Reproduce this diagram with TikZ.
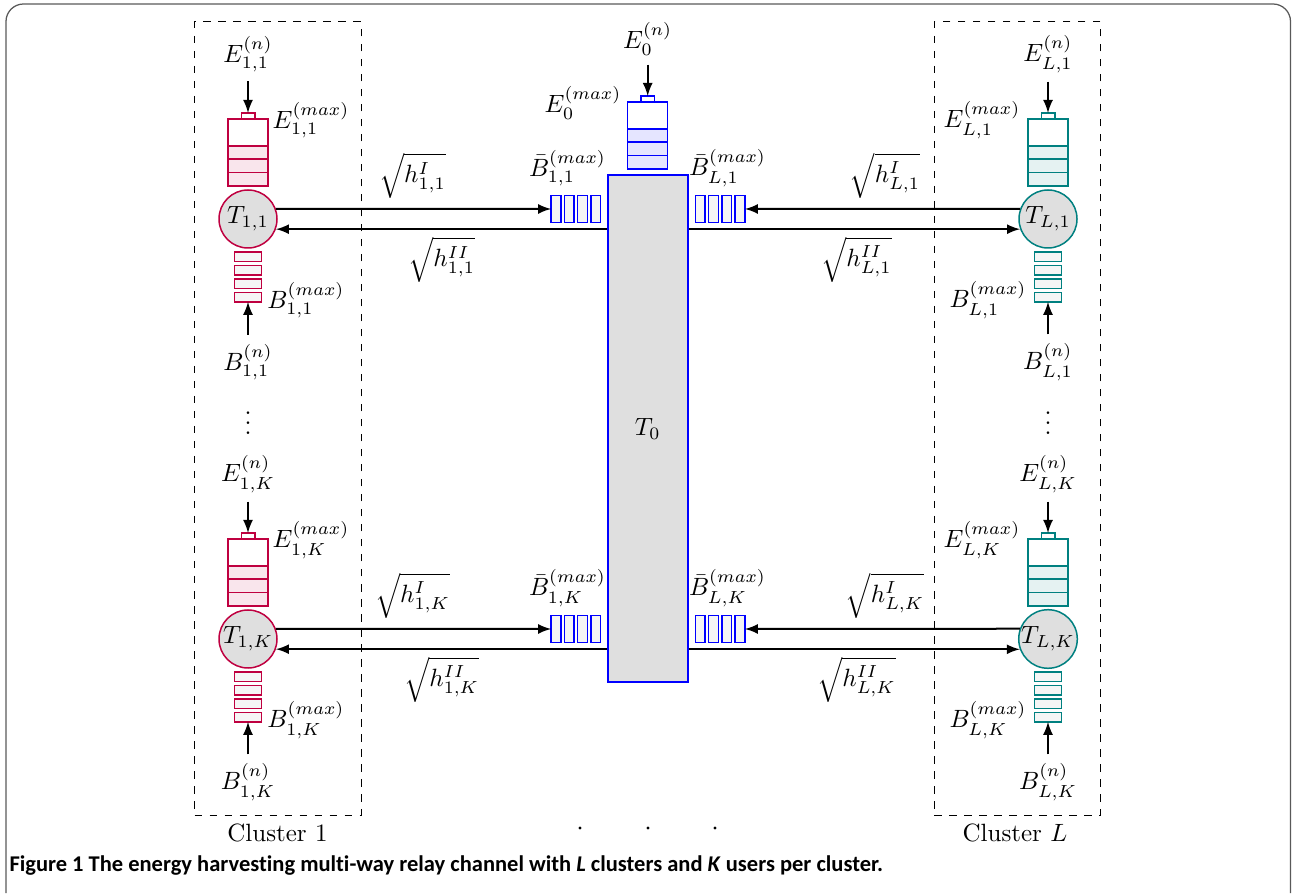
\documentclass[tikz,border=0pt]{standalone}
\usepackage{fontspec}
\newfontfamily\capfont[Ligatures=NoCommon]{Carlito}
\newcommand{\battery}[3]{% name, centre, colour
  \node[battbody=#3] (#1) at (#2) {};
  \foreach \c in {0,1,2}
    \node[bcell=#3,yshift={5.36pt*\c}] (#1-c\c) at (#1.south) {};
  \node[batttop=#3] (#1-t) at (#1.north) {};
}
\newcommand{\userbuf}[3]{% name, centre, colour
  \node[ubuf] (#1) at (#2) {};
  \foreach \c in {0,...,3}
    \node[ucell=#3,yshift={5.36pt*\c}] (#1-c\c) at (#1.south) {};
}
\newcommand{\relaybuf}[2]{% name, centre
  \node[rbuf] (#1) at (#2) {};
  \foreach \c in {0,...,3}
    \node[rcell,xshift={5.32pt*\c}] (#1-c\c) at (#1.west) {};
}
\begin{document}
\begin{tikzpicture}[x=0.4pt,y=0.4pt,inner sep=0pt,
  usr/.style={draw=#1,circle,fill=gray!25,minimum size=23.2pt,semithick},
  battbody/.style={draw=#1,minimum width=16pt,minimum height=26.8pt,outer sep=0pt,semithick},
  bcell/.style={draw=#1,fill=#1!10,minimum width=16pt,minimum height=5.36pt,outer sep=0pt,semithick,anchor=south},
  batttop/.style={draw=#1,minimum width=5.4pt,minimum height=2.4pt,outer sep=0pt,semithick,anchor=south},
  ubuf/.style={minimum width=10.96pt,minimum height=19.84pt,outer sep=0pt},
  ucell/.style={draw=#1,fill=gray!8,minimum width=10.96pt,minimum height=3.76pt,outer sep=0pt,semithick,anchor=south},
  rbuf/.style={minimum width=19.84pt,minimum height=10.68pt,outer sep=0pt},
  rcell/.style={draw=blue,fill=gray!8,minimum width=3.88pt,minimum height=10.68pt,outer sep=0pt,semithick,anchor=west},
  cluster/.style={draw,dashed,minimum width=66.6pt,minimum height=317.2pt},
  link/.style={thick,-latex},
  feed/.style={thick,-latex,shorten <=3.5pt}]
\useasboundingbox (0,0) rectangle (1292,893);
\draw[rounded corners=7,gray!70!black,line width=0.5pt] (6,0) -- (6,889) -- (1290.5,889) -- (1290.5,0);

\node[cluster] (cl1) at (277.75,474.5) {};
\node[cluster] (clL) at (1017.65,474.5) {};
\node (cl1lab) at (277.5,60) {Cluster 1};
\node (clLlab) at (1015,60) {Cluster $L$};
\foreach \x [count=\i] in {580,648,715}
  \node[circle,fill,minimum size=1.3pt] (dot\i) at (\x,65) {};
\node[anchor=base] (vd1) at (248,458.7) {$\vdots$};
\node[anchor=base] (vdL) at (1048,458.7) {$\vdots$};

% relay
\node[draw=blue,thick,fill=gray!25,minimum width=32pt,minimum height=202.8pt] (T0) at (647.7,464.2) {$T_0$};
\battery{batt0}{647.7,757.5}{blue}
\node (E0) at (647.7,854) {$E_0^{(n)}$};
\node (Emax0) at (583,790) {$E_0^{(max)}$};
\draw[feed] (E0) -- (batt0-t.north);

\foreach \k/\dy in {1/0,K/420}{
  % cluster 1
  \node (E1\k) at (248,839-\dy) {$E_{1,\k}^{(n)}$};
  \battery{batt1\k}{248,740.5-\dy}{purple}
  \node (Emax1\k) at (311,773-\dy) {$E_{1,\k}^{(max)}$};
  \node[usr=purple] (T1\k) at (248,674-\dy) {$T_{1,\k}$};
  \userbuf{buf1\k}{248,616-\dy}{purple}
  \node (Bmax1\k) at (306,593-\dy) {$B_{1,\k}^{(max)}$};
  \node (B1\k) at (248,531-\dy) {$B_{1,\k}^{(n)}$};
  \draw[feed] (E1\k) -- (batt1\k-t.north);
  \draw[feed] (B1\k) -- (buf1\k.south);
  % cluster L
  \node (EL\k) at (1048,839-\dy) {$E_{L,\k}^{(n)}$};
  \battery{battL\k}{1048,740.5-\dy}{teal}
  \node (EmaxL\k) at (982,773-\dy) {$E_{L,\k}^{(max)}$};
  \node[usr=teal] (TL\k) at (1048,674-\dy) {$T_{L,\k}$};
  \userbuf{bufL\k}{1048,616-\dy}{teal}
  \node (BmaxL\k) at (988,593-\dy) {$B_{L,\k}^{(max)}$};
  \node (BL\k) at (1048,531-\dy) {$B_{L,\k}^{(n)}$};
  \draw[feed] (EL\k) -- (battL\k-t.north);
  \draw[feed] (BL\k) -- (bufL\k.south);
  % relay buffers and links
  \relaybuf{q1\k}{575.9,684-\dy}
  \relaybuf{qL\k}{720.1,684-\dy}
  \node (qlab1\k) at (567.5,725-\dy) {$\bar{B}_{1,\k}^{(max)}$};
  \node (qlabL\k) at (727.5,725-\dy) {$\bar{B}_{L,\k}^{(max)}$};
  \node (hI1\k) at (412.5,717-\dy) {$\sqrt{h_{1,\k}^{I}}$};
  \node (hII1\k) at (441.7,633-\dy) {$\sqrt{h_{1,\k}^{II}}$};
  \node (hIL\k) at (885,717-\dy) {$\sqrt{h_{L,\k}^{I}}$};
  \node (hIIL\k) at (856.5,633-\dy) {$\sqrt{h_{L,\k}^{II}}$};
  \draw[link] (T1\k.20) -- (q1\k.west);
  \draw[link] (T1\k.340 -| T0.west) -- (T1\k.340);
  \draw[link] (TL\k.160) -- (qL\k.east);
  \draw[link] (TL\k.200 -| T0.east) -- (TL\k.200);
}

\node[anchor=west,font=\capfont\bfseries\fontsize{9}{10.8}\selectfont] (cap) at (9,27)
  {Figure 1 The energy harvesting multi-way relay channel with \textit{L} clusters and \textit{K} users per cluster.};
\end{tikzpicture}
\end{document}
